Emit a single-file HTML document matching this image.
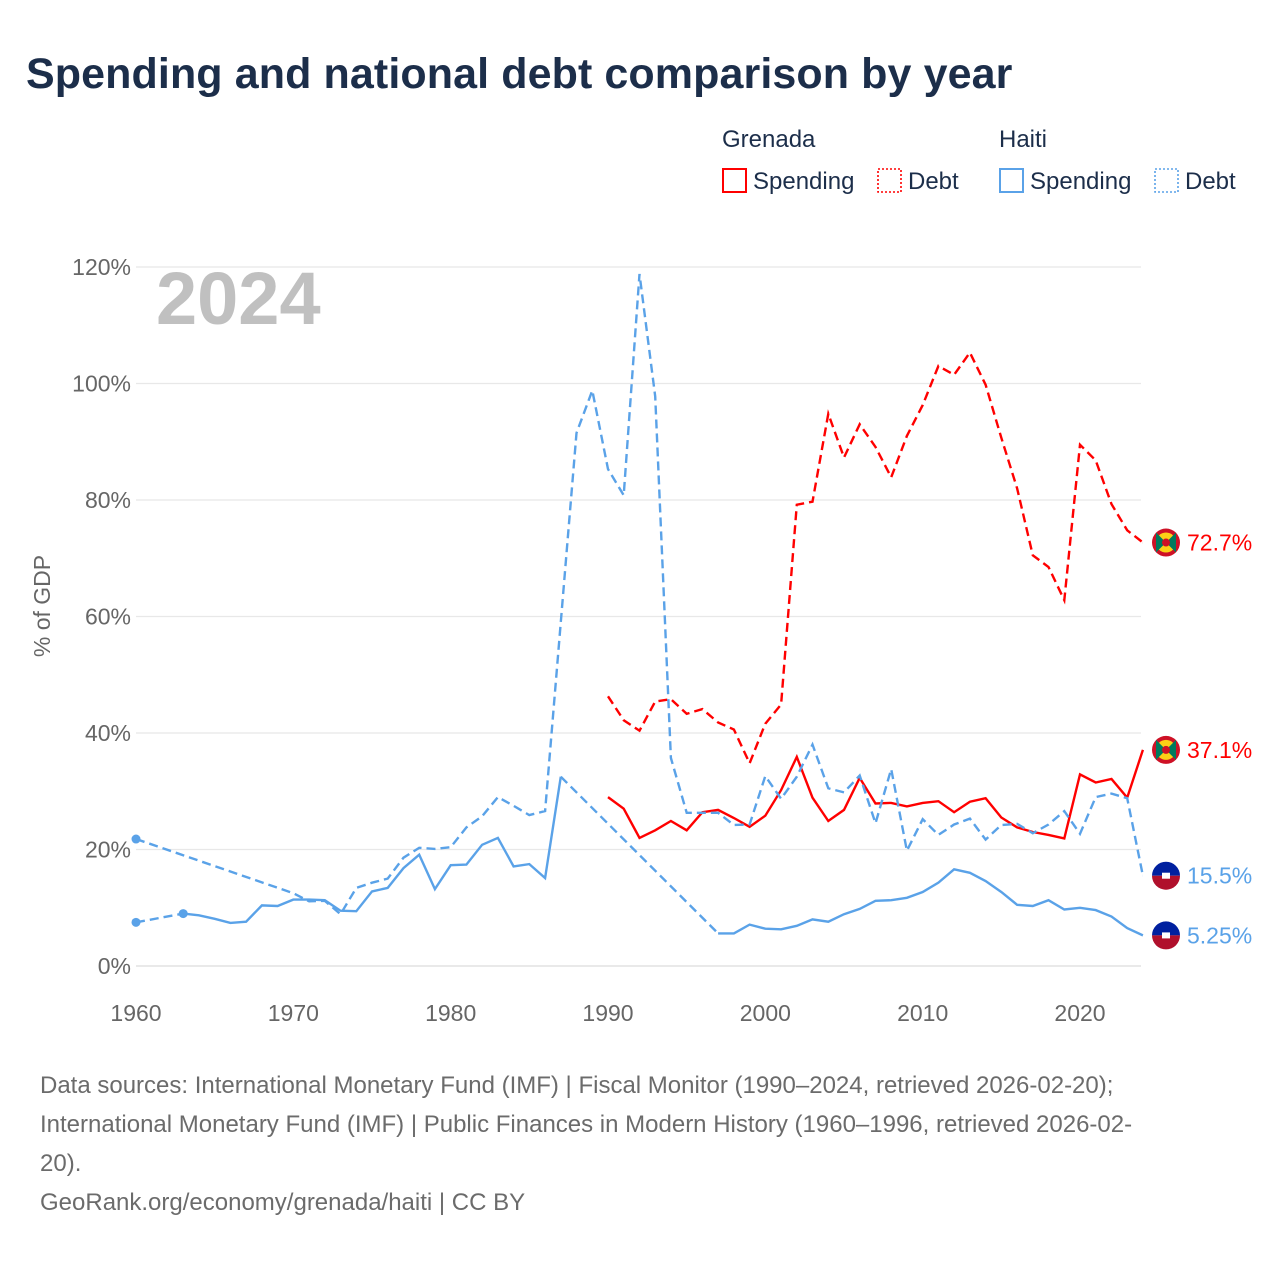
<!DOCTYPE html>
<html><head><meta charset="utf-8">
<style>
body{margin:0;background:#fff;font-family:"Liberation Sans",sans-serif;}
#wrap{position:relative;width:1280px;height:1280px;overflow:hidden;}
h1{position:absolute;left:26px;top:50px;margin:0;font-size:43px;font-weight:bold;color:#1c2e4a;letter-spacing:0.1px;}
.src{position:absolute;left:40px;top:1066px;width:1220px;font-size:24px;line-height:39px;color:#6b6b6b;white-space:nowrap;}
</style></head><body>
<div id="wrap">
<h1>Spending and national debt comparison by year</h1>
<svg id="chart" width="1280" height="1280" style="position:absolute;left:0;top:0"></svg>
<div class="src">Data sources: International Monetary Fund (IMF) | Fiscal Monitor (1990–2024, retrieved 2026-02-20);<br>International Monetary Fund (IMF) | Public Finances in Modern History (1960–1996, retrieved 2026-02-<br>20).<br>GeoRank.org/economy/grenada/haiti | CC BY</div>
</div>
<script>
const years=[];for(let y=1960;y<=2024;y++)years.push(y);
const yTicks=[0,20,40,60,80,100,120];
const xTicks=[1960,1970,1980,1990,2000,2010,2020];
// Values by year from 1960..2024 (null = missing)
const haitiSpending=[7.5,null,null,9.0,8.7,8.1,7.4,7.6,10.4,10.3,11.4,11.4,11.3,9.5,9.4,12.8,13.4,16.8,19.1,13.2,17.3,17.4,20.8,22.0,17.1,17.5,15.1,32.5,null,null,null,null,null,null,null,null,null,5.6,5.6,7.1,6.4,6.3,6.9,8.0,7.6,8.9,9.8,11.2,11.3,11.7,12.7,14.3,16.6,16.0,14.6,12.7,10.5,10.3,11.3,9.7,10.0,9.6,8.5,6.5,5.25];
const haitiDebt=[21.8,null,null,null,null,null,null,null,null,null,12.5,11.1,11.2,8.9,13.4,14.3,15.0,18.6,20.3,20.1,20.4,23.8,25.7,29.0,27.5,25.9,26.6,null,91.5,98.8,85.3,80.8,118.8,97.8,35.7,26.3,26.3,26.3,24.2,24.3,32.6,28.7,32.5,38.0,30.5,29.8,32.7,24.5,33.8,19.8,25.2,22.5,24.3,25.3,21.7,24.2,24.4,22.8,24.3,26.6,22.7,29.0,29.6,28.8,15.5];
const grenadaSpending=Array(30).fill(null).concat([29.0,27.0,22.0,23.3,24.9,23.3,26.4,26.8,25.4,23.9,25.8,30.2,35.9,28.9,24.9,26.8,32.3,27.9,28.0,27.4,28.0,28.3,26.4,28.2,28.8,25.5,23.8,23.0,22.5,21.9,32.9,31.5,32.1,28.9,37.1]);
const grenadaDebt=Array(30).fill(null).concat([46.3,42.2,40.4,45.4,45.8,43.3,44.1,41.8,40.6,34.8,41.6,44.9,79.2,79.7,94.8,87.3,93.0,89.1,83.9,91.0,96.3,103.0,101.5,105.3,99.8,90.7,82.0,70.5,68.5,62.8,89.5,86.8,79.3,74.8,72.7]);
const endLabels=["72.7%","37.1%","15.5%","5.25%"];

const svg=document.getElementById('chart');
const NS='http://www.w3.org/2000/svg';
const X=y=>136+(y-1960)*(944/60);
const Y=v=>966-v*(699/120);
function mk(t,a,p){const e=document.createElementNS(NS,t);for(const k in a)e.setAttribute(k,a[k]);(p||svg).appendChild(e);return e;}
function txt(s,x,y,a){const e=mk('text',Object.assign({x:x,y:y,'font-family':'Liberation Sans, sans-serif'},a));e.textContent=s;return e;}

yTicks.forEach(v=>{
 const l=mk('line',{x1:136,x2:1141,y1:Y(v),y2:Y(v),stroke:v===0?'#dcdcdc':'#e8e8e8','stroke-width':1.2});
 
 
 const t=txt(v+'%',131,Y(v)+8,{'font-size':23,fill:'#666','text-anchor':'end'});
 
 
});
xTicks.forEach(y=>{
 const t=txt(String(y),X(y),1021,{'font-size':23,fill:'#666','text-anchor':'middle'});
 
 
});
const yt=txt('% of GDP',0,0,{'font-size':23,fill:'#666','text-anchor':'middle',transform:'translate(50,606) rotate(-90)'});


const yr=txt('2024',156,324,{'font-size':74,'font-weight':'bold',fill:'#c0c0c0'});



function series(vals,color,dashed,name){
 const g=mk('g',{});
 
 
 const pts=[];vals.forEach((v,i)=>{if(v!==null)pts.push([X(years[i]),Y(v),i]);});
 if(dashed){
  mk('path',{d:'M'+pts.map(p=>p[0].toFixed(1)+','+p[1].toFixed(1)).join('L'),fill:'none',stroke:color,'stroke-width':2.4,'stroke-dasharray':'9,5'},g);
 } else {
  let seg=[];
  for(let k=0;k<pts.length;k++){
   if(k>0&&pts[k][2]!==pts[k-1][2]+1){
    mk('line',{x1:pts[k-1][0],y1:pts[k-1][1],x2:pts[k][0],y2:pts[k][1],stroke:color,'stroke-width':2.4,'stroke-dasharray':'9,5'},g);
    if(seg.length>1)mk('path',{d:'M'+seg.map(p=>p[0].toFixed(1)+','+p[1].toFixed(1)).join('L'),fill:'none',stroke:color,'stroke-width':2.4},g);
    seg=[];
   }
   seg.push(pts[k]);
  }
  if(seg.length>1)mk('path',{d:'M'+seg.map(p=>p[0].toFixed(1)+','+p[1].toFixed(1)).join('L'),fill:'none',stroke:color,'stroke-width':2.4},g);
 }
 const last=pts[pts.length-1];
 mk('line',{x1:last[0],y1:last[1],x2:1143,y2:last[1],stroke:color,'stroke-width':2.4},g);
 return last;
}
mk('circle',{cx:X(1960),cy:Y(haitiDebt[0]),r:4.5,fill:'#5aa2e8'});
mk('circle',{cx:X(1960),cy:Y(haitiSpending[0]),r:4.5,fill:'#5aa2e8'});
mk('circle',{cx:X(1963),cy:Y(haitiSpending[3]),r:4.5,fill:'#5aa2e8'});
const ends=[
 [series(grenadaDebt,'#ff0000',true,'grenada-debt-line'),'#ff0000','g',endLabels[0]],
 [series(grenadaSpending,'#ff0000',false,'grenada-spending-line'),'#ff0000','g',endLabels[1]],
 [series(haitiDebt,'#5aa2e8',true,'haiti-debt-line'),'#5aa2e8','h',endLabels[2]],
 [series(haitiSpending,'#5aa2e8',false,'haiti-spending-line'),'#5aa2e8','h',endLabels[3]]
];
ends.forEach((e,i)=>{
 const cy=e[0][1],cx=1166;
 const g=mk('g',{});
 
 
 if(e[2]==='g'){
  mk('circle',{cx:cx,cy:cy,r:14,fill:'#ce1126'},g);
  mk('circle',{cx:cx,cy:cy,r:10,fill:'#fcd116'},g);
  mk('path',{d:`M${cx-10},${cy-10}L${cx+10},${cy+10}L${cx+10},${cy-10}L${cx-10},${cy+10}Z`,fill:'#007a5e'},g);
  mk('circle',{cx:cx,cy:cy,r:4,fill:'#ce1126'},g);
 } else {
  mk('path',{d:`M${cx-14},${cy}A14,14 0 0 1 ${cx+14},${cy}Z`,fill:'#00209f'},g);
  mk('path',{d:`M${cx-14},${cy}A14,14 0 0 0 ${cx+14},${cy}Z`,fill:'#b0102c'},g);
  mk('rect',{x:cx-4,y:cy-3,width:8,height:6,fill:'#fff'},g);
 }
 const t=txt(e[3],1187,cy+8,{'font-size':23,fill:e[1]});
 
 
});
const lg=[[722,'Grenada'],[999,'Haiti']];
lg.forEach(l=>{const t=txt(l[1],l[0],147,{'font-size':24,fill:'#1c2e4a'});});
const items=[[722,'#ff0000',false,'Spending'],[877,'#ff0000',true,'Debt'],[999,'#5aa2e8',false,'Spending'],[1154,'#5aa2e8',true,'Debt']];
items.forEach((it,i)=>{
 const g=mk('g',{});
 
 
 mk('rect',{x:it[0]+1,y:169,width:23,height:23,fill:'none',stroke:it[1],'stroke-width':it[2]?1.6:2,'stroke-dasharray':it[2]?'2,2':'none'},g);
 txt(it[3],it[0]+31,189,{'font-size':24,fill:'#1c2e4a'});
});
</script>
</body></html>
